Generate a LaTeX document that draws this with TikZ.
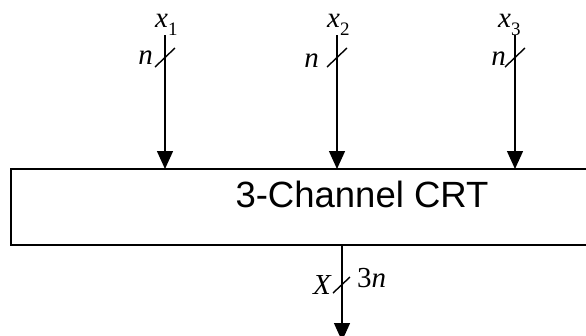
\documentclass[tikz,border=0pt]{standalone}
\usepackage{fontspec}
\setmainfont{Liberation Serif}
\newfontfamily\arialfont{Liberation Sans}
\usetikzlibrary{arrows.meta,calc}
\begin{document}
\begin{tikzpicture}[x=1pt,y=-1pt,
  conn/.style={line width=1.4pt,-{Triangle[width=16pt,length=18pt]}},
  busmark/.style={line width=1.4pt},
  lab/.style={inner sep=0pt,font=\fontsize{29}{29}\selectfont\itshape},
]
\useasboundingbox (0,0) rectangle (586,335);
\clip (0,0) rectangle (586,335);
% block
\node[draw,line width=1.6pt,minimum width=609pt,minimum height=76pt,inner sep=0pt,outer sep=0pt,anchor=north west] (box) at (11,169) {};
\node[anchor=base,inner sep=0pt,font=\arialfont\fontsize{36.5}{36.5}\selectfont] (title) at (362,207) {3-Channel CRT};
% inputs
\coordinate (i1) at (165,35);
\coordinate (i2) at (337,35);
\coordinate (i3) at (515,35);
\foreach \i in {1,2,3}{
  \draw[conn] (i\i) -- (i\i |- box.north);
  \draw[busmark] ($(i\i)+(-10,32)$) -- ($(i\i)+(10,13)$);
}
\node[lab,anchor=base west] (x1) at (155,27) {x\raisebox{-8pt}{\upshape\fontsize{19}{19}\selectfont 1}};
\node[lab,anchor=base west] (x2) at (327,27) {x\raisebox{-8pt}{\upshape\fontsize{19}{19}\selectfont 2}};
\node[lab,anchor=base west] (x3) at (498,27) {x\raisebox{-8pt}{\upshape\fontsize{19}{19}\selectfont 3}};
\node[lab,anchor=base east] (n1) at (153,64) {n};
\node[lab,anchor=base east] (n2) at (319,67) {n};
\node[lab,anchor=base east] (n3) at (506,65) {n};
% output
\coordinate (o) at (342,341);
\draw[conn] (box.south -| o) -- (o);
\draw[busmark] ($(o)+(-9,-48)$) -- ($(o)+(8,-64)$);
\node[lab,anchor=base east] (X) at (331,294) {X};
\node[lab,anchor=base west] (n3n) at (357,287) {{\upshape 3}n};
\end{tikzpicture}
\end{document}
